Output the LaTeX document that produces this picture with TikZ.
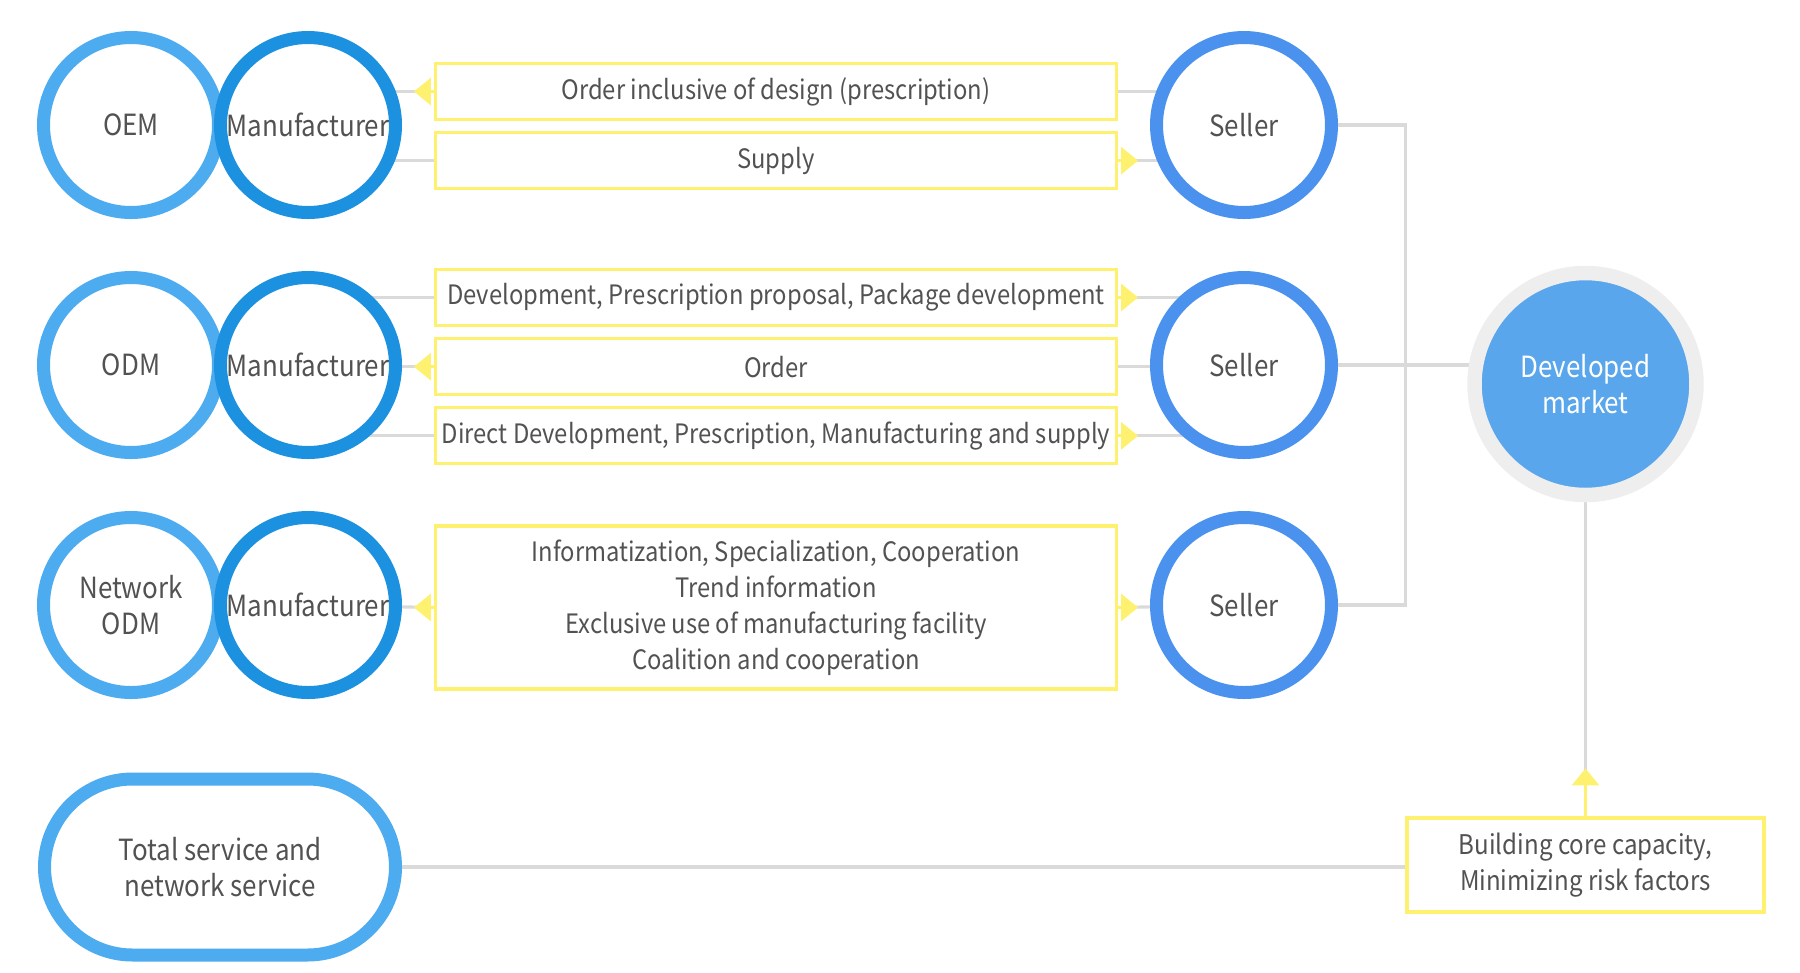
\documentclass[tikz,border=0pt]{standalone}
\usepackage{fontspec}
\setmainfont[FakeStretch=0.89]{Noto Sans CJK KR}
\usetikzlibrary{positioning,arrows.meta,backgrounds}
\definecolor{oemblue}{RGB}{77,171,240}
\definecolor{manublue}{RGB}{27,145,224}
\definecolor{sellblue}{RGB}{74,146,238}
\definecolor{marketblue}{RGB}{90,166,236}
\definecolor{ringgrey}{RGB}{238,238,238}
\definecolor{boxyellow}{RGB}{255,241,112}
\definecolor{linegrey}{RGB}{218,218,218}
\definecolor{txtgrey}{RGB}{82,82,82}
\tikzstyle{ring} = [circle, line width=0.13cm, fill=white, minimum size=1.75cm, inner sep=0pt, text=txtgrey, align=center, font=\fontsize{8.3}{10.2}\selectfont]
\tikzstyle{oemring} = [ring, draw=oemblue]
\tikzstyle{manuring} = [ring, draw=manublue]
\tikzstyle{sellring} = [ring, draw=sellblue]
\tikzstyle{flowbox} = [rectangle, draw=boxyellow, line width=0.9pt, fill=white, minimum width=6.81cm, minimum height=0.56cm, inner sep=0pt, text=txtgrey, align=center, font=\fontsize{7.6}{10.2}\selectfont]
\tikzstyle{link} = [draw=linegrey, line width=0.9pt]
\tikzstyle{yarrow} = [draw=boxyellow, line width=0.9pt, -{Triangle[length=0.17cm, width=0.27cm]}]
\begin{document}
\begin{tikzpicture}
		\useasboundingbox (0,0) rectangle (18,-9.72);
		
		% circles on the left and right
		\node (oem) [oemring] at (1.31,-1.25) {OEM};
		\node (manu1) [manuring] at (3.08,-1.25) {Manufacturer};
		\node (sell1) [sellring] at (12.44,-1.25) {Seller};
		
		\node (odm) [oemring, below = 0.52cm of oem] {ODM};
		\node (manu2) [manuring, below = 0.52cm of manu1] {Manufacturer};
		\node (sell2) [sellring, below = 0.52cm of sell1] {Seller};
		
		\node (net) [oemring, below = 0.52cm of odm] {Network\\ODM};
		\node (manu3) [manuring, below = 0.52cm of manu2] {Manufacturer};
		\node (sell3) [sellring, below = 0.52cm of sell2] {Seller};
		
		% flow boxes
		\node (b11) [flowbox] at (7.76,-0.915) {Order inclusive of design (prescription)};
		\node (b12) [flowbox, below = 0.1cm of b11] {Supply};
		
		\node (b21) [flowbox] at (7.76,-2.975) {Development, Prescription proposal, Package development};
		\node (b22) [flowbox, below = 0.1cm of b21] {Order};
		\node (b23) [flowbox, below = 0.1cm of b22] {Direct Development, Prescription, Manufacturing and supply};
		
		\node (b31) [flowbox, minimum height=1.63cm] at (7.76,-6.075) {Informatization, Specialization, Cooperation\\Trend information\\Exclusive use of manufacturing facility\\Coalition and cooperation};
		
		% market side
		\node (dev) [circle, fill=marketblue, draw=ringgrey, line width=0.145cm, minimum size=2.22cm, inner sep=0pt, text=white, align=center, font=\fontsize{8.3}{10.2}\selectfont] at (15.855,-3.84) {Developed\\market};
		\node (build) [flowbox, minimum width=3.57cm, minimum height=0.94cm, font=\fontsize{7.7}{10.2}\selectfont] at (15.855,-8.65) {Building core capacity,\\Minimizing risk factors};
		\node (svc) [rectangle, rounded corners=0.88cm, draw=oemblue, line width=0.13cm, fill=white, minimum width=3.51cm, minimum height=1.76cm, text=txtgrey, align=center, font=\fontsize{8.3}{10.2}\selectfont] at (2.20,-8.67) {Total service and\\network service};
		
		\begin{scope}[on background layer]
		\draw [link] (b11.west -| manu1) -- (b11.west);
		\draw [link] (b11.east) -- (b11.east -| sell1);
		\draw [link] (b12.west -| manu1) -- (b12.west);
		\draw [link] (b12.east) -- (b12.east -| sell1);
		
		\draw [link] (b21.west -| manu2) -- (b21.west);
		\draw [link] (b21.east) -- (b21.east -| sell2);
		\draw [link] (b22.west -| manu2) -- (b22.west);
		\draw [link] (b22.east) -- (b22.east -| sell2);
		\draw [link] (b23.west -| manu2) -- (b23.west);
		\draw [link] (b23.east) -- (b23.east -| sell2);
		
		\draw [link] (manu3) -- (b31.west);
		\draw [link] (b31.east) -- (sell3);
		
		\draw [link] (sell1) -- (sell1 -| build.west) |- (sell3);
		\draw [link] (sell2) -- (sell2 -| dev);
		\draw [link] (dev) -- (build);
		\draw [link] (svc) -- (svc -| build.west);
		\end{scope}
		
		% yellow arrow tips
		\draw [yarrow] (b11.west) -- ++(-0.2,0);
		\draw [yarrow] (b12.east) -- ++(0.2,0);
		\draw [yarrow] (b21.east) -- ++(0.2,0);
		\draw [yarrow] (b22.west) -- ++(-0.2,0);
		\draw [yarrow] (b23.east) -- ++(0.2,0);
		\draw [yarrow] (b31.west) -- ++(-0.2,0);
		\draw [yarrow] (b31.east) -- ++(0.2,0);
		\draw [yarrow] (build.north) -- ++(0,0.48);
		
\end{tikzpicture}
\end{document}
